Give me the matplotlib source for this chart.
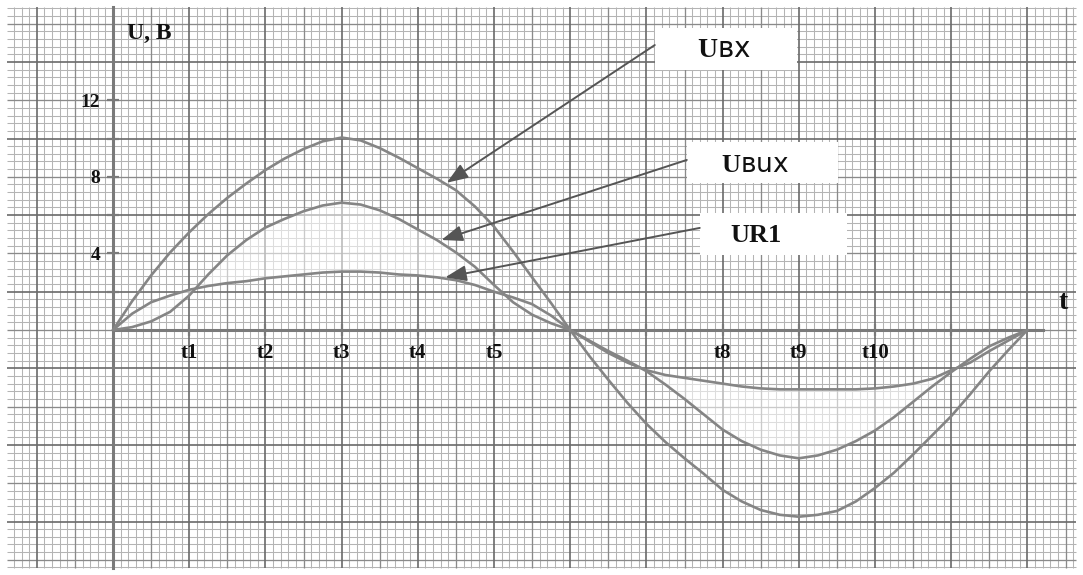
## Осциллограммы напряжений Uвх, Uвых, UR1 на миллиметровке

import numpy as np
import matplotlib
matplotlib.use("Agg")
import matplotlib.pyplot as plt
from matplotlib.patches import Rectangle

plt.rcParams['mathtext.fontset'] = 'custom'
plt.rcParams['mathtext.bf'] = 'Liberation Serif:bold'
plt.rcParams['mathtext.rm'] = 'Liberation Serif'

##Данные: t в делениях t1..t12 (шаг 0.25), U в вольтах
t = np.arange(0, 12.01, 0.25)

u_bx = [0, 1.5, 2.85, 4.05, 5.1, 6.05, 6.9, 7.65, 8.35, 8.95, 9.45, 9.85, 10.05,
        9.9, 9.5, 9.0, 8.45, 7.9, 7.3, 6.45, 5.4, 4.1, 2.75, 1.4, 0,
        -1.35, -2.6, -3.8, -4.9, -5.85, -6.7, -7.5, -8.35, -8.95, -9.4, -9.65, -9.75,
        -9.65, -9.45, -8.95, -8.25, -7.45, -6.5, -5.5, -4.5, -3.35, -2.15, -1.05, 0]

u_bux = [0, 0.15, 0.45, 0.95, 1.8, 2.9, 3.9, 4.7, 5.35, 5.8, 6.2, 6.5, 6.65,
         6.55, 6.25, 5.8, 5.25, 4.7, 4.05, 3.3, 2.35, 1.45, 0.8, 0.35, 0,
         -0.55, -1.1, -1.6, -2.15, -2.85, -3.6, -4.4, -5.2, -5.8, -6.25, -6.55, -6.7,
         -6.55, -6.25, -5.8, -5.25, -4.55, -3.75, -2.95, -2.2, -1.5, -0.85, -0.4, 0]

u_r1 = [0, 0.85, 1.45, 1.8, 2.1, 2.3, 2.45, 2.55, 2.7, 2.8, 2.9, 3.0, 3.05,
        3.05, 3.0, 2.9, 2.85, 2.75, 2.6, 2.35, 2.0, 1.7, 1.35, 0.75, 0,
        -0.6, -1.2, -1.7, -2.1, -2.35, -2.5, -2.65, -2.8, -2.95, -3.05, -3.1, -3.1,
        -3.1, -3.1, -3.1, -3.05, -2.95, -2.8, -2.55, -2.1, -1.7, -1.1, -0.55, 0]

x_ticks = list(range(1, 12))
x_labels = ['t1', 't2', 't3', 't4', 't5', '', '', 't8', 't9', 't10', '']
y_ticks = [2, 4, 6, 8, 10, 12]
y_labels = ['', '4', '', '8', '', '12']

# масштаб листа: пиксели на деление
X0, PX_T = 113, 76.2
Y0, PX_U = 330, 19.15
W, H = 1083, 575

fig = plt.figure(figsize=(W / 100, H / 100), dpi=100)
ax = fig.add_axes([0, 0, 1, 1])
ax.set_xlim(-X0 / PX_T, (W - X0) / PX_T)
ax.set_ylim(-(H - Y0) / PX_U, Y0 / PX_U)

#Миллиметровка
t_left, t_right = (7 - X0) / PX_T, (1076 - X0) / PX_T
u_top, u_bot = (Y0 - 7) / PX_U, (Y0 - 568) / PX_U

kx = np.arange(int(np.ceil(t_left * 10)), int(np.floor(t_right * 10)) + 1)
ky = np.arange(int(np.ceil(u_bot / 0.4)), int(np.floor(u_top / 0.4)) + 1)
xs = kx / 10
ys = ky * 0.4

fine_x, mid_x, bold_x = xs[kx % 5 != 0], xs[kx % 10 == 5], xs[kx % 10 == 0]
fine_y, mid_y, bold_y = ys[ky % 5 != 0], ys[ky % 10 == 0], ys[ky % 10 == 5]

for xx, yy, col, lw in [(fine_x, fine_y, '#b4b4b4', 0.75),
                        (mid_x, mid_y, '#8a8a8a', 0.95),
                        (bold_x, bold_y, '#6a6a6a', 1.2)]:
    ax.vlines(xx, u_bot, u_top, colors=col, linewidth=lw, zorder=1)
    ax.hlines(yy, t_left, t_right, colors=col, linewidth=lw, zorder=1)

# светлые участки между Uвых и UR1
ax.fill_between(t, u_bux, u_r1, color='white', alpha=0.55, lw=0, zorder=2)

#Кривые
for uu in [u_bx, u_bux, u_r1]:
    ax.plot(t, uu, color='#858585', lw=1.9, solid_joinstyle='round',
            solid_capstyle='round', zorder=3)

#Оси
for s in ['top', 'right']:
    ax.spines[s].set_visible(False)
ax.spines['left'].set_position(('data', 0))
ax.spines['bottom'].set_position(('data', 0))
ax.spines['left'].set_bounds(u_bot, u_top)
ax.spines['bottom'].set_bounds(0, 12.2)
for s in ['left', 'bottom']:
    ax.spines[s].set_color('#7a7a7a')
    ax.spines[s].set_linewidth(2.2)

ax.set_xticks(x_ticks)
ax.set_xticklabels(x_labels, fontfamily='Liberation Serif', fontweight='bold', fontsize=15)
ax.set_yticks(y_ticks)
ax.set_yticklabels(y_labels, fontfamily='Liberation Serif', fontweight='bold', fontsize=14)
ax.tick_params(axis='both', direction='inout', length=8, width=1.6,
               color='#7a7a7a', pad=5, labelcolor='#111111')

ax.text(0.18, 15.5, 'U, B', fontfamily='Liberation Serif', fontweight='bold',
        fontsize=17, ha='left', va='center', color='#111111')
ax.text(12.47, 1.45, 't', fontfamily='Liberation Serif', fontweight='bold',
        fontsize=20, ha='center', va='center', color='#111111')

#Подписи кривых
boxes = [(7.11, 13.58, 1.87, 2.19), (7.53, 7.68, 1.98, 2.14), (7.70, 3.92, 1.93, 2.19)]
for bx, by, bw, bh in boxes:
    ax.add_patch(Rectangle((bx, by), bw, bh, facecolor='white', edgecolor='none', zorder=4))

arrows = [((4.38, 7.69), (7.11, 14.88)),
          ((4.31, 4.70), (7.53, 8.88)),
          ((4.36, 2.75), (7.70, 5.33))]
for tip, tail in arrows:
    ax.annotate('', xy=tip, xytext=tail,
                arrowprops=dict(arrowstyle='-|>,head_length=0.8,head_width=0.3',
                                color='#555555', lw=1.4, mutation_scale=16,
                                shrinkA=0, shrinkB=0), zorder=5)

ax.text(8.02, 14.27, r'$\mathbf{U}$вх', fontfamily='DejaVu Sans', fontsize=20,
        ha='center', va='baseline', color='#111111', zorder=6)
ax.text(8.42, 8.27, r'$\mathbf{U}$вux', fontfamily='DejaVu Sans', fontsize=19,
        ha='center', va='baseline', color='#111111', zorder=6)
ax.text(8.44, 4.61, 'UR1', fontfamily='Liberation Serif', fontweight='bold', fontsize=19,
        ha='center', va='baseline', color='#111111', zorder=6)

#Salvar
fig.savefig('out.png', dpi=100, facecolor='white')
